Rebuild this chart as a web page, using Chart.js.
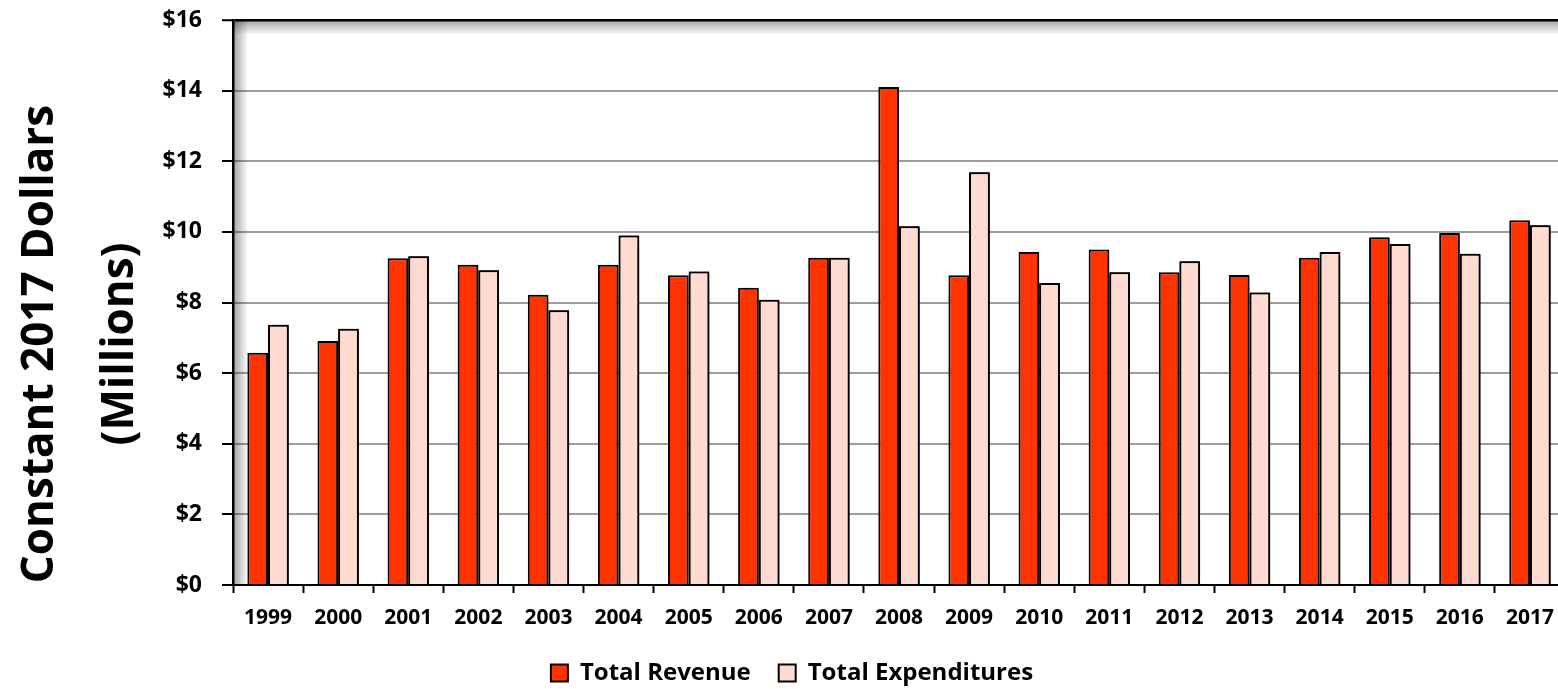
<!DOCTYPE html>
<html>
<head>
<meta charset="utf-8">
<script src="https://cdn.jsdelivr.net/npm/chart.js@4.4.1/dist/chart.umd.min.js"></script>
<style>
  html, body { margin: 0; padding: 0; background: #fff; overflow: hidden; }
  #wrap { width: 1568px; height: 689px; }
</style>
</head>
<body>
<div id="wrap"><canvas id="chart" width="1568" height="689"></canvas></div>
<script>
const years = ['1999', '2000', '2001', '2002', '2003', '2004', '2005', '2006', '2007', '2008',
  '2009', '2010', '2011', '2012', '2013', '2014', '2015', '2016', '2017']
const revenue = [6.58, 6.91, 9.25, 9.07, 8.22, 9.07, 8.77, 8.42, 9.27, 14.10,
  8.77, 9.43, 9.50, 8.86, 8.78, 9.27, 9.85, 9.97, 10.33]
const expenditures = [7.37, 7.26, 9.31, 8.91, 7.78, 9.90, 8.88, 8.08, 9.27, 10.16,
  11.69, 8.55, 8.86, 9.17, 8.28, 9.43, 9.66, 9.38, 10.19]
const seriesNames = ['Total Revenue', 'Total Expenditures']
const yTitle = ['Constant 2017 Dollars', '(Millions)']

Chart.defaults.font.family = '"Open Sans", sans-serif'
Chart.defaults.font.weight = 'bold'
Chart.defaults.color = '#000'

// soft shadows: inner shadow of the plot frame and drop shadow of the bars
const shadowPlugin = {
  id: 'shadows',
  beforeDatasetsDraw(chart) {
    const { ctx, chartArea: a } = chart
    ctx.save()
    let g = ctx.createLinearGradient(0, a.top + 1, 0, a.top + 15)
    g.addColorStop(0, 'rgba(0,0,0,0.35)')
    g.addColorStop(1, 'rgba(0,0,0,0)')
    ctx.fillStyle = g
    ctx.fillRect(a.left + 1, a.top + 1, a.width, 14)
    g = ctx.createLinearGradient(a.left + 1, 0, a.left + 15, 0)
    g.addColorStop(0, 'rgba(0,0,0,0.35)')
    g.addColorStop(1, 'rgba(0,0,0,0)')
    ctx.fillStyle = g
    ctx.fillRect(a.left + 1, a.top + 1, 14, a.height - 1)
    ctx.restore()
  },
  beforeDatasetDraw(chart) {
    const ctx = chart.ctx
    ctx.save()
    ctx.shadowColor = 'rgba(0,0,0,0.45)'
    ctx.shadowBlur = 7
    ctx.shadowOffsetX = 5
    ctx.shadowOffsetY = 4
  },
  afterDatasetDraw(chart) {
    chart.ctx.restore()
  },
  afterDatasetsDraw(chart) {
    // put the expenditure bars back on top of the revenue shadows
    chart.getDatasetMeta(1).controller.draw()
  }
}

// two-line y title, centred on the whole picture height
const yTitlePlugin = {
  id: 'yTitle',
  afterDraw(chart) {
    const ctx = chart.ctx
    ctx.save()
    ctx.translate(53, 344)
    ctx.rotate(-Math.PI / 2)
    ctx.font = 'bold 44px "Open Sans"'
    ctx.fillStyle = '#000'
    ctx.textAlign = 'center'
    ctx.textBaseline = 'alphabetic'
    ctx.fillText(yTitle[0], 0, 0)
    ctx.fillText(yTitle[1], 0, 80)
    ctx.restore()
  }
}

new Chart(document.getElementById('chart'), {
  type: 'bar',
  data: {
    labels: years,
    datasets: [
      {
        label: seriesNames[0],
        data: revenue,
        backgroundColor: '#ff3300',
        borderColor: '#000',
        borderWidth: 2
      },
      {
        label: seriesNames[1],
        data: expenditures,
        backgroundColor: '#ffdad0',
        borderColor: '#000',
        borderWidth: 2
      }
    ]
  },
  options: {
    responsive: false,
    animation: false,
    devicePixelRatio: 1,
    layout: { padding: { top: 20, right: 3, left: 19, bottom: 0 } },
    datasets: { bar: { categoryPercentage: 0.59, barPercentage: 1.0 } },
    plugins: {
      legend: {
        position: 'bottom',
        maxHeight: 56,
        labels: {
          boxWidth: 17,
          boxHeight: 17,
          padding: 28,
          font: { size: 24, weight: 'bold' },
          color: '#000'
        }
      },
      tooltip: { enabled: false }
    },
    scales: {
      x: {
        afterFit: (s) => { s.height = 48 },
        grid: {
          offset: true,
          drawOnChartArea: false,
          drawTicks: true,
          tickLength: 8,
          tickColor: '#000',
          tickWidth: 2
        },
        border: { color: '#000', width: 2 },
        ticks: { padding: 12, font: { size: 21, weight: 'bold' }, color: '#000', maxRotation: 0 }
      },
      y: {
        min: 0,
        max: 16,
        afterFit: (s) => {
          s.width = 214
          s.paddingTop = 0
          s.paddingBottom = 0
        },
        grid: {
          color: (c) => (c.tick && c.tick.value === 16 ? '#000' : '#9d9d9d'),
          lineWidth: (c) => (c.tick && c.tick.value === 16 ? 2.5 : 2),
          tickLength: 11,
          tickColor: '#000',
          tickWidth: 2
        },
        border: { color: '#000', width: 2.5 },
        ticks: {
          stepSize: 2,
          padding: 20,
          font: { size: 23, weight: 'bold' },
          color: '#000',
          callback: (v) => '$' + v
        }
      }
    }
  },
  plugins: [shadowPlugin, yTitlePlugin]
})
</script>
</body>
</html>
